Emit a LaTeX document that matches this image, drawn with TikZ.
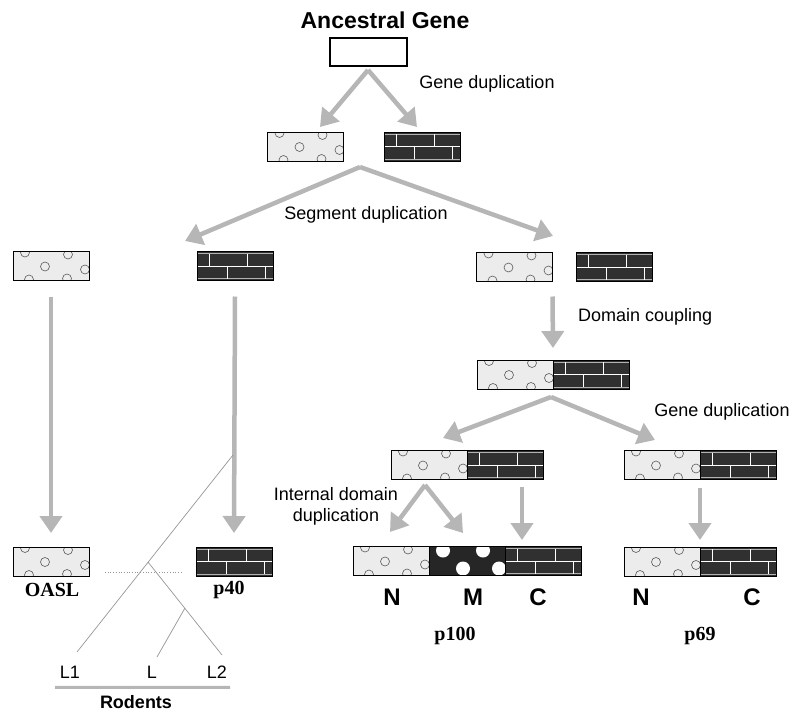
\documentclass[tikz,border=0pt]{standalone}
\usepackage{fontspec}
\setmainfont{Liberation Sans}
\newfontfamily\labserif{Liberation Serif}
\usetikzlibrary{arrows.meta,positioning,calc}
\definecolor{arrowgray}{RGB}{182,182,182}
\definecolor{dotfill}{RGB}{236,236,236}
\definecolor{brickfill}{RGB}{48,48,48}
\definecolor{treegray}{RGB}{150,150,150}
\newcommand{\ppnw}{path picture bounding box.north west}
\tikzset{
  genebox/.style={rectangle,draw=black,line width=0.9pt,minimum width=76pt,minimum height=29pt,inner sep=0pt,outer sep=0pt},
  emptybox/.style={genebox,fill=white,minimum width=77pt,minimum height=28pt,line width=1.3pt},
  dotbox/.style={genebox,fill=dotfill,path picture={
      \foreach \cx/\cy in {12/1,32/15,55/3,16/28,54/27,72/18}
        \draw[black!65,line width=0.6pt] ($(\ppnw)+(\cx,\cy)$) circle (4.5pt);}},
  brickbox/.style={genebox,fill=brickfill,path picture={
      \begin{scope}[white,line width=0.8pt]
        \draw ($(\ppnw)+(0,14.5)$) -- ($(\ppnw)+(76,14.5)$);
        \draw[line width=0.4pt,white!70!black] ($(\ppnw)+(0,2)$) -- ($(\ppnw)+(76,2)$)
          ($(\ppnw)+(0,27)$) -- ($(\ppnw)+(76,27)$);
        \foreach \bx in {12,50} \draw ($(\ppnw)+(\bx,2)$) -- ($(\ppnw)+(\bx,14.5)$);
        \foreach \bx in {30,68} \draw ($(\ppnw)+(\bx,14.5)$) -- ($(\ppnw)+(\bx,27)$);
      \end{scope}}},
  mbox/.style={genebox,fill=black!85,path picture={
      \foreach \cx/\cy in {14/4,54/4,34/22,70/22}
        \fill[white] ($(\ppnw)+(\cx,\cy)$) circle (7pt);}},
  grayarr/.style={-{Triangle[width=22pt,length=17pt]},line width=4.5pt,draw=arrowgray,fill=arrowgray},
  evlab/.style={font=\fontsize{18}{21}\selectfont,inner sep=0pt},
  domlab/.style={font=\fontsize{24}{28}\selectfont\bfseries,inner sep=0pt},
  protlab/.style={font=\labserif\fontsize{20}{24}\selectfont\bfseries,inner sep=0pt},
  treeline/.style={draw=treegray,line width=0.7pt}
}

\begin{document}
\begin{tikzpicture}[x=1pt,y=-1pt]
  \useasboundingbox (0,0) rectangle (798,715);
  \node[font=\fontsize{23}{27}\selectfont\bfseries] (title) at (385,20) {Ancestral Gene};
  \node[emptybox] (anc) at (368.5,52) {};

  %% first duplication
  \node[dotbox] (d1) at (305.5,146.5) {};
  \node[brickbox] (b1) at (422,146.5) {};

  %% segment duplication
  \node[dotbox] (d2) at (51,266) {};
  \node[brickbox] (b2) at (235,266) {};
  \node[dotbox] (d3) at (514.5,267) {};
  \node[brickbox] (b3) at (614,267) {};

  %% coupled domains
  \node[dotbox] (d4) at (515,374.5) {};
  \node[brickbox,right=0pt of d4] (b4) {};
  \node[dotbox] (d5) at (429,465) {};
  \node[brickbox,right=0pt of d5] (b5) {};
  \node[dotbox] (d6) at (662,465) {};
  \node[brickbox,right=0pt of d6] (b6) {};

  %% present-day genes
  \node[dotbox] (oasl) at (51,561.5) {};
  \node[brickbox] (p40) at (234,561.5) {};
  \node[dotbox] (n100) at (391,561) {};
  \node[mbox,right=0pt of n100] (m100) {};
  \node[brickbox,right=0pt of m100] (c100) {};
  \node[dotbox] (n69) at (662,561.5) {};
  \node[brickbox,right=0pt of n69] (c69) {};

  %% step labels
  \node[evlab] (gdup1) at (487,84) {Gene duplication};
  \node[evlab] (sdup) at (366,215) {Segment duplication};
  \node[evlab,anchor=west] (dcoup) at (578,317) {Domain coupling};
  \node[evlab] (gdup2) at (722,412) {Gene duplication};
  \node[evlab,align=center] (idup) at (336,506) {Internal domain\\duplication};

  %% gene names
  \node[protlab] (loasl) at (52,590) {OASL};
  \node[protlab] (lp40) at (229,590) {p40};
  \node[domlab] (ln100) at (392,597) {N};
  \node[domlab] (lm100) at (473,597) {M};
  \node[domlab] (lc100) at (538,597) {C};
  \node[protlab] (lp100) at (455,636) {p100};
  \node[domlab] (ln69) at (641,597) {N};
  \node[domlab] (lc69) at (752,597) {C};
  \node[protlab] (lp69) at (700,636) {p69};

  %% arrows
  \path (368,70) coordinate (gd1) (320,127) coordinate (gd1l) (417,127) coordinate (gd1r);
  \draw[grayarr] (gd1) -- (gd1l);
  \draw[grayarr] (gd1) -- (gd1r);
  \path (360,167) coordinate (sd) (185,241) coordinate (sdl) (553,236) coordinate (sdr);
  \draw[grayarr] (sd) -- (sdl);
  \draw[grayarr] (sd) -- (sdr);
  \draw[grayarr] ([yshift=-15pt]d3.south east) -- ([yshift=12pt]d4.north east);
  \path (551,397) coordinate (gd2) (443,438) coordinate (gd2l) (655,440) coordinate (gd2r);
  \draw[grayarr] (gd2) -- (gd2l);
  \draw[grayarr] (gd2) -- (gd2r);
  \path (425,485) coordinate (id) (390,532) coordinate (idl) (463,533) coordinate (idr);
  \draw[grayarr] (id) -- (idl);
  \draw[grayarr] (id) -- (idr);
  \path (522,487) coordinate (ct) (522,540) coordinate (cb);
  \draw[grayarr] (ct) -- (cb);
  \draw[grayarr] ([yshift=-8pt]d6.south east) -- ([yshift=7pt]n69.north east);
  \draw[grayarr] ([yshift=-16pt]d2.south) -- ([yshift=14pt]oasl.north);
  \draw[grayarr] ([yshift=-16pt]b2.south) -- ([yshift=14pt]p40.north);

  %% rodent tree
  \path (233,455) coordinate (rtop) (77,652) coordinate (rl1)
        (148,562) coordinate (rbr) (222,655) coordinate (rl2)
        (185,608) coordinate (rsub) (157,657) coordinate (rl)
        (105,572) coordinate (ra) (182,572) coordinate (rb);
  \draw[treeline] (rtop) -- (rl1);
  \draw[treeline] (rbr) -- (rl2);
  \draw[treeline] (rsub) -- (rl);
  \draw[treeline,dotted,line width=1pt] (ra) -- (rb);
  \node[evlab] (l1) at (70,672) {L1};
  \node[evlab] (l) at (152,672) {L};
  \node[evlab] (l2) at (217,672) {L2};
  \draw[draw=arrowgray,line width=3pt] ([xshift=-15pt,yshift=-9pt]l1.south) -- ([xshift=13pt,yshift=-9pt]l2.south);
  \node[evlab,font=\fontsize{18}{21}\selectfont\bfseries] (rod) at (136,702) {Rodents};
\end{tikzpicture}
\end{document}
